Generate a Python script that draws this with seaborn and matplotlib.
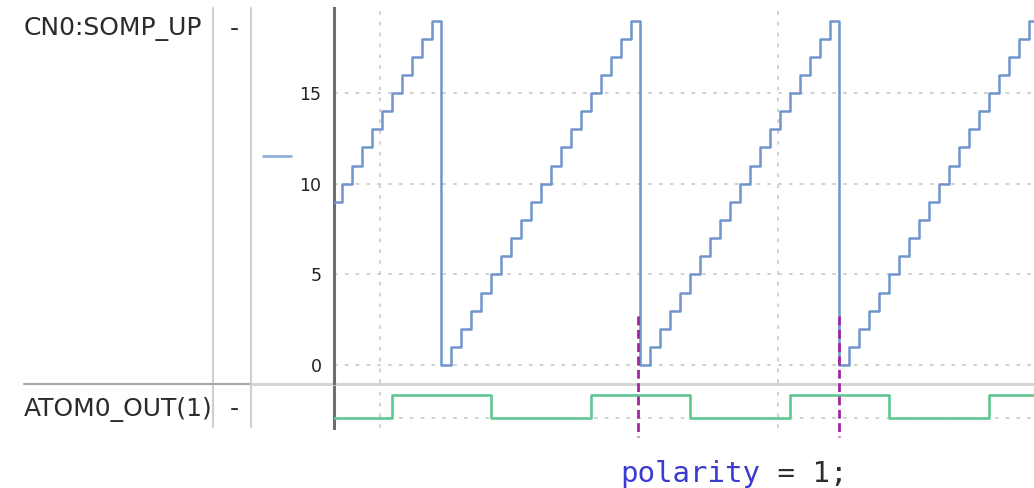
import numpy as np
import pandas as pd
import matplotlib
matplotlib.use("Agg")
import matplotlib.pyplot as plt
from matplotlib.ticker import FixedLocator, NullFormatter
from matplotlib.lines import Line2D
import seaborn as sns

# ---------------- data ----------------
signal_names = ["CN0:SOMP_UP", "ATOM0_OUT(1)"]
signal_values = ["-", "-"]

# counter value per clock cycle (cycle index = position in list)
somp_up = [9, 10, 11, 12, 13, 14, 15, 16, 17, 18, 19,
           0, 1, 2, 3, 4, 5, 6, 7, 8, 9, 10, 11, 12, 13, 14, 15, 16, 17, 18, 19,
           0, 1, 2, 3, 4, 5, 6, 7, 8, 9, 10, 11, 12, 13, 14, 15, 16, 17, 18, 19,
           0, 1, 2, 3, 4, 5, 6, 7, 8, 9, 10, 11, 12, 13, 14, 15, 16, 17, 18, 19,
           0]

# digital output: edge times (cycles) and level after each edge
atom0_edges = [0, 6, 16, 26, 36, 46, 56, 66, 72]
atom0_levels = [0, 1, 0, 1, 0, 1, 0, 1, 1]

marker_times = [30.75, 51.0]      # magenta dashed markers
grid_times = [4.8, 44.8]          # vertical dotted grid
y_major = [0, 5, 10, 15]
code_parts = ["polarity", " = 1;"]

# ---------------- style ----------------
sns.set_style("white")
plt.rcParams["font.family"] = ["DejaVu Sans"]

BLUE = "#6f95cc"
GREEN = "#5fc892"
MAGENTA = "#a2279f"
SPINE = "#6e6e6e"
GRID = "#cdcdcd"

W, H = 1034, 488
fig = plt.figure(figsize=(W / 100, H / 100), dpi=100)


def fx(px):
    return px / W


def fy(py):
    return 1 - py / H


ax_bot = fig.add_axes([fx(334), fy(428), 1 - fx(334), fy(383) - fy(428)])
ax_top = fig.add_axes([fx(334), fy(383), 1 - fx(334), fy(8) - fy(383)], sharex=ax_bot)
ax_bot.set_zorder(1)
ax_top.set_zorder(2)
for ax in (ax_top, ax_bot):
    ax.set_facecolor("white")

somp_df = pd.DataFrame({"cycle": np.arange(len(somp_up)), "value": somp_up})
atom_df = pd.DataFrame({"cycle": atom0_edges, "level": atom0_levels})

sns.lineplot(data=somp_df, x="cycle", y="value", drawstyle="steps-post",
             estimator=None, color=BLUE, linewidth=1.8, ax=ax_top, zorder=3)
sns.lineplot(data=atom_df, x="cycle", y="level", drawstyle="steps-post",
             estimator=None, color=GREEN, linewidth=1.9, ax=ax_bot, zorder=3)

ax_top.set_xlim(0.196, 70.55)
ax_top.set_ylim(-0.99, 19.69)
ax_bot.set_ylim(-0.426, 1.49)

for ax in (ax_top, ax_bot):
    ax.set_xlabel("")
    ax.set_ylabel("")
    for s in ("top", "right", "bottom"):
        ax.spines[s].set_visible(False)
    ax.spines["left"].set_color(SPINE)
    ax.spines["left"].set_linewidth(2.2)
    ax.xaxis.set_major_locator(FixedLocator(grid_times))
    ax.tick_params(axis="x", which="both", length=0, labelbottom=False)
    ax.grid(True, axis="x", which="major", color=GRID,
            linestyle=(0, (2, 4)), linewidth=1.3, zorder=0)

ax_top.yaxis.set_major_locator(FixedLocator(y_major))
ax_top.yaxis.set_minor_locator(FixedLocator(np.arange(0, 20)))
ax_top.grid(True, axis="y", which="major", color=GRID,
            linestyle=(0, (2, 4)), linewidth=1.3, zorder=0)
ax_top.tick_params(axis="y", which="major", direction="out", length=5,
                   width=1.1, color=SPINE, labelsize=12.5, labelcolor="#222222", pad=4)
ax_top.tick_params(axis="y", which="minor", direction="inout", length=4,
                   width=1.0, color=SPINE)

ax_bot.yaxis.set_major_locator(FixedLocator([0]))
ax_bot.yaxis.set_minor_locator(FixedLocator([0.5, 1.0]))
ax_bot.yaxis.set_major_formatter(NullFormatter())
ax_bot.grid(True, axis="y", which="major", color=GRID,
            linestyle=(0, (2, 4)), linewidth=1.3, zorder=0)
ax_bot.tick_params(axis="y", which="major", direction="out", length=5,
                   width=1.1, color=SPINE, labelleft=False)
ax_bot.tick_params(axis="y", which="minor", direction="inout", length=4,
                   width=1.0, color=SPINE)

# magenta marker lines (drawn from the top axes, spilling over the lower panel)
for t in marker_times:
    ax_top.plot([t, t], [2.7, -3.97], color=MAGENTA, linewidth=2,
                linestyle=(0, (3.2, 1.6)), clip_on=False, zorder=6)

# ---------------- left label panel ----------------
lines = [
    Line2D([fx(213), fx(213)], [fy(8), fy(427)], color="#cfcfcf", lw=1.5),
    Line2D([fx(251), fx(251)], [fy(8), fy(427)], color="#cfcfcf", lw=1.5),
    Line2D([fx(24), fx(251)], [fy(383.5), fy(383.5)], color="#a9a9a9", lw=1.5),
    Line2D([fx(251), 1.0], [fy(383.5), fy(383.5)], color="#d2d2d2", lw=2.0),
    Line2D([fx(263), fx(291)], [fy(156), fy(156)], color="#8fb0dc", lw=2.0),
]
for ln in lines:
    ln.set_transform(fig.transFigure)
    ln.set_zorder(1.5)
    fig.add_artist(ln)

row_y = [29, 409]
for name, val, y in zip(signal_names, signal_values, row_y):
    fig.text(fx(24), fy(y), name, fontsize=18, color="#2b2b2b", ha="left", va="center")
    fig.text(fx(234), fy(y), val, fontsize=18, color="#2b2b2b", ha="center", va="center")

# code annotation
t1 = fig.text(fx(620), fy(482), code_parts[0], fontsize=21, family="DejaVu Sans Mono",
              color="#3b3bd0", ha="left", va="baseline")
ax_top.annotate(code_parts[1], xy=(1, 0), xycoords=t1, fontsize=21,
                family="DejaVu Sans Mono", color="#2e2e2e", ha="left", va="bottom",
                annotation_clip=False)

fig.savefig("out.png", dpi=100)
